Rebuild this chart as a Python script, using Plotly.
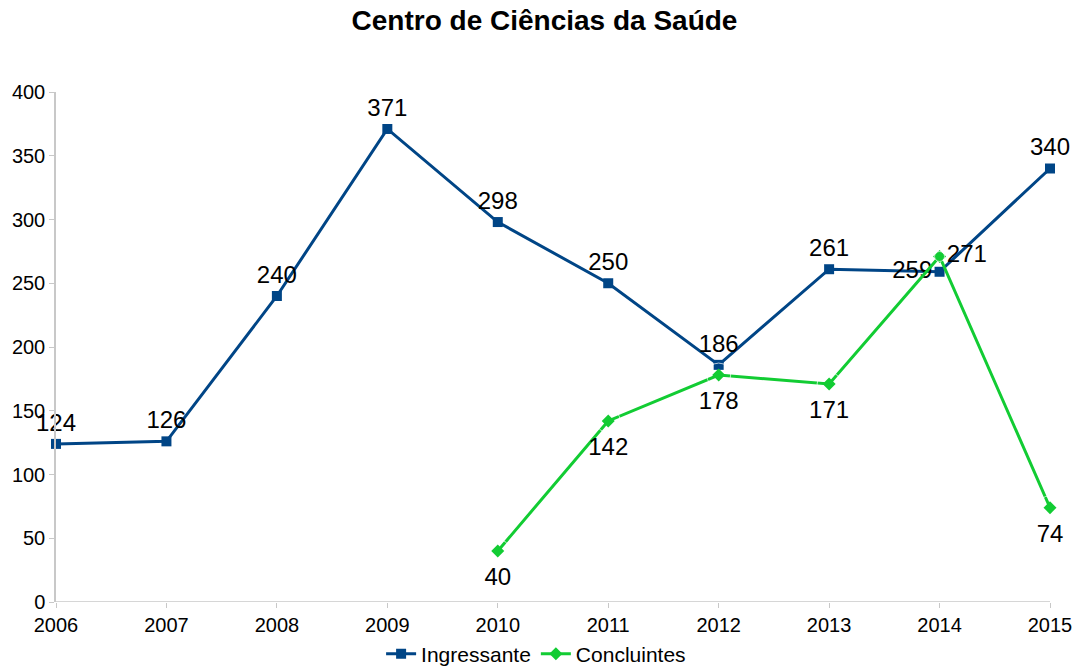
import plotly.graph_objects as go

years = [2006, 2007, 2008, 2009, 2010, 2011, 2012, 2013, 2014, 2015]
ingressante = [124, 126, 240, 371, 298, 250, 186, 261, 259, 340]
conc_years = [2010, 2011, 2012, 2013, 2014, 2015]
concluintes = [40, 142, 178, 171, 271, 74]

blue = "#004586"
green = "#12cc33"

ing_pos = ["top center"] * 8 + ["middle left", "top center"]
conc_pos = ["bottom center"] * 4 + ["middle right", "bottom center"]
conc_size = [24, 24, 24, 24, 10, 24]

lbl_font = dict(size=24, color="black", family="Liberation Sans")

fig = go.Figure()
fig.add_trace(go.Scatter(
    x=years, y=ingressante, name="Ingressante", mode="lines+markers+text",
    line=dict(color=blue, width=3), marker=dict(symbol="square", size=10, color=blue),
    text=[str(v) for v in ingressante], textposition=ing_pos,
    textfont=lbl_font, cliponaxis=False))
fig.add_trace(go.Scatter(
    x=conc_years, y=concluintes, name="Concluintes", mode="lines+markers",
    line=dict(color=green, width=3), marker=dict(symbol="diamond", size=10, color=green),
    cliponaxis=False))
fig.add_trace(go.Scatter(
    x=conc_years, y=concluintes, mode="markers+text", showlegend=False, hoverinfo="skip",
    marker=dict(size=conc_size, color="rgba(0,0,0,0)"),
    text=[str(v) for v in concluintes], textposition=conc_pos,
    textfont=lbl_font, cliponaxis=False))

fig.update_layout(
    width=1073, height=658, plot_bgcolor="white", paper_bgcolor="white",
    font=dict(family="Liberation Sans", size=20, color="black"),
    title=dict(text="<b>Centro de Ciências da Saúde</b>", x=0.5, xanchor="center",
               y=0.982, yanchor="middle", font=dict(size=28, color="black")),
    margin=dict(l=48, r=31, t=84, b=64, autoexpand=False),
    showlegend=True,
    legend=dict(orientation="h", x=0.483, xanchor="center", y=-0.102, yanchor="middle",
                font=dict(size=21), itemwidth=30, tracegroupgap=0),
    xaxis=dict(range=[2006, 2015], tickmode="array", tickvals=years,
               ticktext=[str(y) for y in years], showgrid=False, zeroline=False,
               showline=False, ticks="outside", ticklen=5, tickcolor="#c8c8c8"),
    yaxis=dict(range=[0, 400], dtick=50, showgrid=False, zeroline=False,
               showline=True, linecolor="#c8c8c8", linewidth=1.5,
               ticks="outside", ticklen=5, tickcolor="#c8c8c8"),
)
fig.add_shape(type="line", xref="paper", yref="y", x0=0, x1=1, y0=0, y1=0,
              line=dict(color="#c8c8c8", width=1.5), layer="below")
fig.write_html("out.html")
